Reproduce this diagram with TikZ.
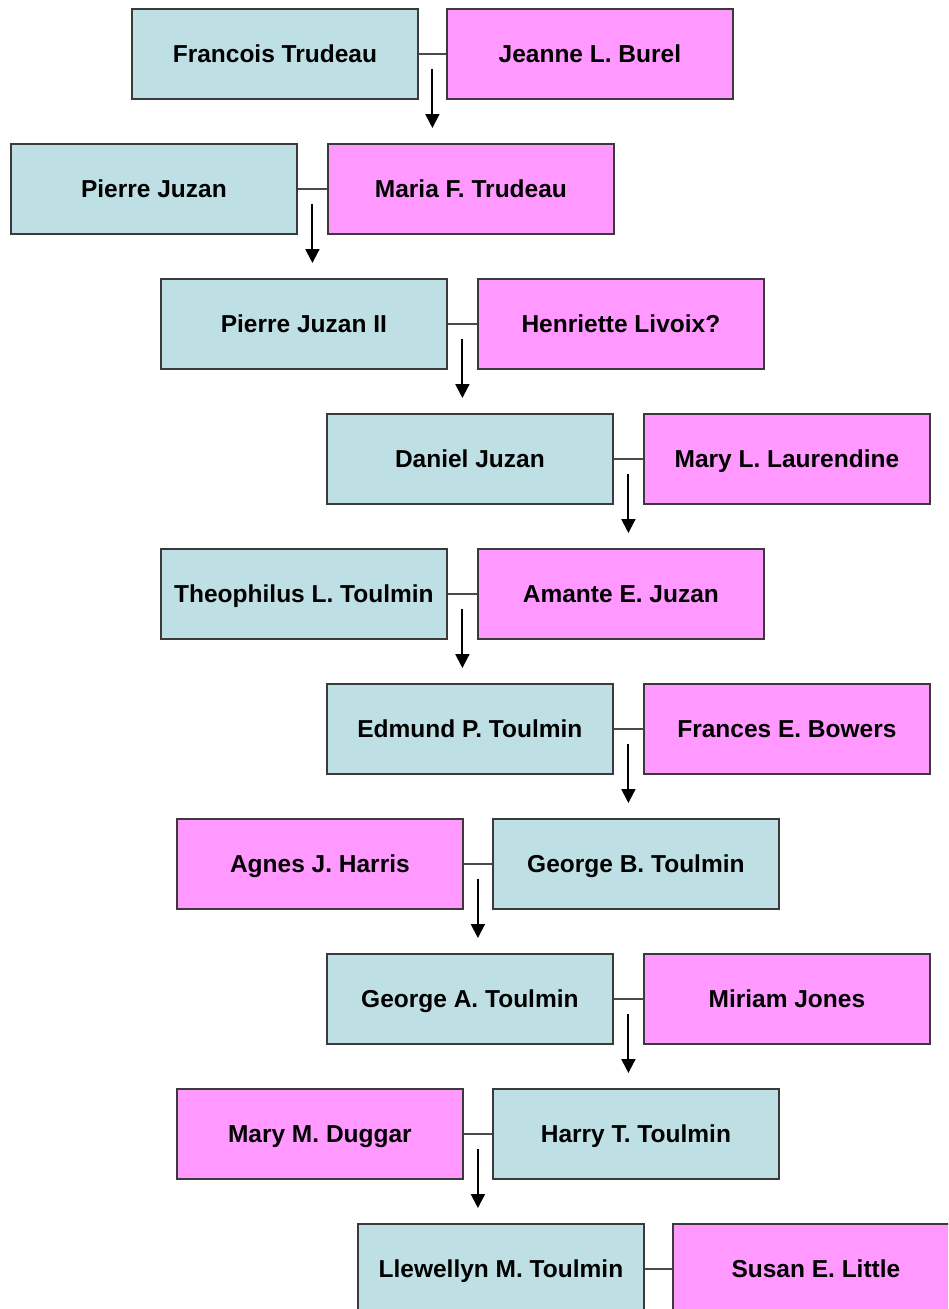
\documentclass[tikz,border=0pt]{standalone}
\usepackage{fontspec}
\setmainfont{Liberation Sans}
\usetikzlibrary{arrows.meta,calc}
\definecolor{mblue}{HTML}{BEE0E4}
\definecolor{fpink}{HTML}{FF99FF}
\definecolor{edgec}{HTML}{3A3A3A}
\definecolor{linkc}{HTML}{4A4A4A}
\begin{document}
\begin{tikzpicture}[x=1pt,y=-1pt,
  person/.style={draw=edgec, line width=1.8pt, minimum width=286pt, minimum height=90pt,
    inner sep=0pt, anchor=north west, font=\fontsize{24.5}{28}\selectfont\bfseries,
    text height=17.5pt, text depth=0pt},
  male/.style={person, fill=mblue},
  female/.style={person, fill=fpink},
  link/.style={draw=linkc, line width=2.8pt},
  descent/.style={draw=black, line width=2pt, -{Triangle[length=14pt,width=14pt]}}]
\useasboundingbox (0,0) rectangle (948,1309);
\clip (0,0) rectangle (948,1309);

\node[male]   (a1) at (131,8)   {Francois Trudeau};
\node[female] (b1) at (446,8)   {Jeanne L. Burel};
\node[male]   (a2) at (10,143)  {Pierre Juzan};
\node[female] (b2) at (327,143) {Maria F. Trudeau};
\node[male]   (a3) at (160,278) {Pierre Juzan II};
\node[female] (b3) at (477,278) {Henriette Livoix?};
\node[male]   (a4) at (326,413) {Daniel Juzan};
\node[female] (b4) at (643,413) {Mary L. Laurendine};
\node[male]   (a5) at (160,548) {Theophilus L. Toulmin};
\node[female] (b5) at (477,548) {Amante E. Juzan};
\node[male]   (a6) at (326,683) {Edmund P. Toulmin};
\node[female] (b6) at (643,683) {Frances E. Bowers};
\node[female] (a7) at (176,818) {Agnes J. Harris};
\node[male]   (b7) at (492,818) {George B. Toulmin};
\node[male]   (a8) at (326,953) {George A. Toulmin};
\node[female] (b8) at (643,953) {Miriam Jones};
\node[female] (a9) at (176,1088) {Mary M. Duggar};
\node[male]   (b9) at (492,1088) {Harry T. Toulmin};
\node[male]   (a10) at (357,1223) {Llewellyn M. Toulmin};
\node[female] (b10) at (672,1223) {Susan E. Little};

\foreach \i in {1,...,10}{
  \draw[link] (a\i.east) -- (b\i.west);
  \coordinate (m\i) at ($(a\i.east)!0.5!(b\i.west)$);
}
\foreach \i/\j in {1/2,2/3,3/4,4/5,5/6,6/7,7/8,8/9,9/10}{
  \draw[descent] ([yshift=-15pt]m\i) -- ([yshift=15pt]m\i |- a\j.north);
}
\end{tikzpicture}
\end{document}
